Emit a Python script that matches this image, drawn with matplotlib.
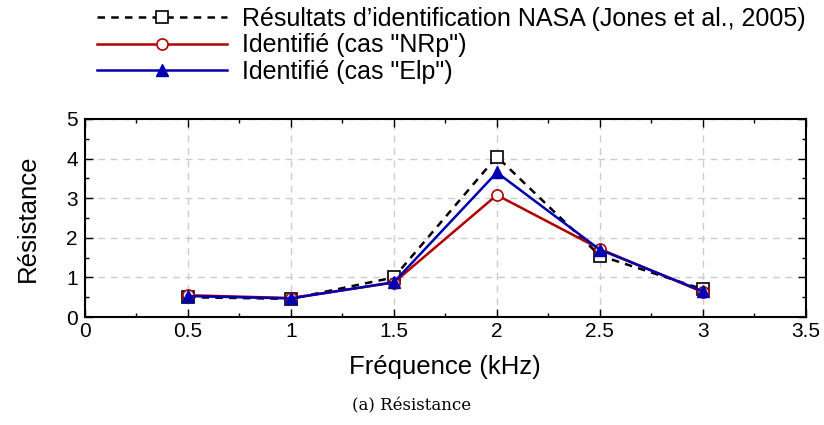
import matplotlib.pyplot as plt
from matplotlib.ticker import MultipleLocator

freq = [0.5, 1.0, 1.5, 2.0, 2.5, 3.0]
nasa = [0.50, 0.46, 1.00, 4.05, 1.55, 0.70]
nrp = [0.55, 0.48, 0.87, 3.08, 1.72, 0.63]
elp = [0.53, 0.47, 0.88, 3.65, 1.70, 0.65]

labels = ["Résultats d’identification NASA (Jones et al., 2005)",
          'Identifié (cas "NRp")',
          'Identifié (cas "Elp")']

plt.rcParams['font.family'] = ['Liberation Sans', 'DejaVu Sans']

fig = plt.figure(figsize=(8.24, 4.25), dpi=100)
ax = fig.add_axes([0.103, 0.254, 0.875, 0.466])

l1, = ax.plot(freq, nasa, color='black', ls=(0, (3, 2.5)), lw=1.8,
              marker='s', ms=9, mfc='white', mec='black', mew=1.2)
l2, = ax.plot(freq, nrp, color='#b00000', lw=1.8,
              marker='o', ms=8, mfc='white', mec='#b00000', mew=1.2)
l3, = ax.plot(freq, elp, color='#0000b0', lw=1.8,
              marker='^', ms=8, mfc='#0000b0', mec='#0000b0')

ax.set_xlim(0, 3.5)
ax.set_ylim(0, 5)
ax.set_xticks([0, 0.5, 1, 1.5, 2, 2.5, 3, 3.5])
ax.set_xticklabels(['0', '0.5', '1', '1.5', '2', '2.5', '3', '3.5'])
ax.xaxis.set_minor_locator(MultipleLocator(0.25))
ax.yaxis.set_major_locator(MultipleLocator(1))
ax.yaxis.set_minor_locator(MultipleLocator(0.5))
ax.tick_params(which='both', direction='in', top=True, right=True, labelsize=15)
ax.tick_params(which='major', length=6, width=1)
ax.tick_params(which='minor', length=3, width=1)
ax.tick_params(axis='y', pad=5)
for s in ax.spines.values():
    s.set_linewidth(1.5)
ax.grid(True, which='major', color='#cccccc', ls=(0, (5, 4)), lw=1)
ax.set_axisbelow(True)

ax.set_xlabel('Fréquence (kHz)', fontsize=18.5, labelpad=10)
ax.set_ylabel('Résistance', fontsize=18.5, labelpad=19)

fig.legend([l1, l2, l3], labels, loc='upper left', bbox_to_anchor=(0.097, 1.025),
           frameon=False, fontsize=18, handlelength=5.2, handletextpad=0.6,
           labelspacing=0.1, borderpad=0.2)

fig.text(0.5, 0.045, '(a) Résistance', ha='center', va='center',
         fontsize=12, family=['DejaVu Serif'])

fig.savefig('out.png', dpi=100)
